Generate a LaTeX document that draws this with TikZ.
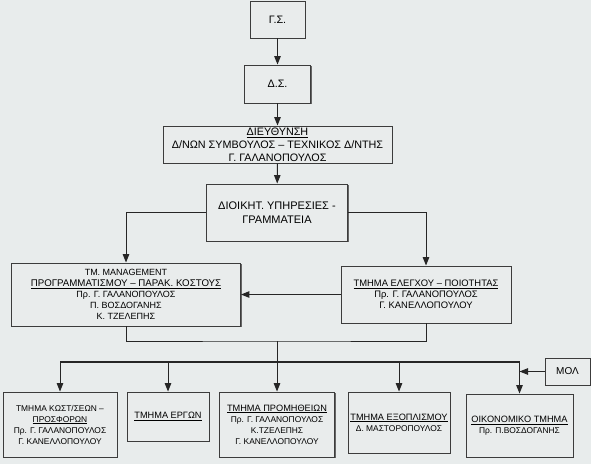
\documentclass[tikz,border=0pt]{standalone}
\usepackage{fontspec}
\setmainfont{Liberation Sans}
\usetikzlibrary{arrows.meta,shadows}
\definecolor{bg}{HTML}{E8ECEC}
\definecolor{boxfill}{HTML}{E9ECEC}
\definecolor{edge}{HTML}{3C3C3C}
\definecolor{linec}{HTML}{262626}
\newcommand\hd[1]{{\fontsize{9.2}{11}\selectfont\underline{#1}}}
\begin{document}
\begin{tikzpicture}[x=1pt,y=-1pt,
  box/.style={draw=edge, line width=0.9pt, fill=boxfill, align=center, inner sep=0pt,
    drop shadow={shadow xshift=1pt, shadow yshift=-1pt, fill=black!60, opacity=1}},
  big/.style={font=\fontsize{10.8}{13}\selectfont},
  mid/.style={font=\fontsize{9}{11}\selectfont},
  small/.style={font=\fontsize{8.4}{11}\selectfont},
  conn/.style={draw=linec, line width=1pt},
  arr/.style={conn, -{Triangle[length=8.5pt,width=6.5pt]}},
  ]
\useasboundingbox (0,0) rectangle (591,464);
\fill[bg] (0,0) rectangle (591,464);

\node[box, big, minimum width=55pt, minimum height=37pt] (gs) at (277.5,19.5) {Γ.Σ.};
\node[box, big, minimum width=66pt, minimum height=38pt] (ds) at (277.5,84) {Δ.Σ.};
\node[box, big, minimum width=229pt, minimum height=37pt] (dir) at (277.5,144.5)
  {\underline{ΔΙΕΥΘΥΝΣΗ}\\Δ/ΝΩΝ ΣΥΜΒΟΥΛΟΣ – ΤΕΧΝΙΚΟΣ Δ/ΝΤΗΣ\\Γ. ΓΑΛΑΝΟΠΟΥΛΟΣ};
\node[box, font=\fontsize{11}{13.5}\selectfont, minimum width=141pt, minimum height=57pt] (dioik) at (277,212.5)
  {ΔΙΟΙΚΗΤ. ΥΠΗΡΕΣΙΕΣ -\\ΓΡΑΜΜΑΤΕΙΑ};
\node[box, mid, minimum width=229pt, minimum height=63pt] (mgmt) at (126,294.5)
  {ΤΜ. MANAGEMENT\\{\fontsize{9.7}{11}\selectfont\underline{ΠΡΟΓΡΑΜΜΑΤΙΣΜΟΥ – ΠΑΡΑΚ. ΚΟΣΤΟΥΣ}}\\Πρ. Γ. ΓΑΛΑΝΟΠΟΥΛΟΣ\\Π. ΒΟΣΔΟΓΑΝΗΣ\\Κ. ΤΖΕΛΕΠΗΣ};
\node[box, font=\fontsize{9.4}{10.8}\selectfont, minimum width=170pt, minimum height=57pt] (qual) at (426,294.5)
  {\underline{ΤΜΗΜΑ ΕΛΕΓΧΟΥ – ΠΟΙΟΤΗΤΑΣ}\\Πρ. Γ. ΓΑΛΑΝΟΠΟΥΛΟΣ\\Γ. ΚΑΝΕΛΛΟΠΟΥΛΟΥ};

\node[box, small, minimum width=114pt, minimum height=65pt] (kost) at (60,424.5)
  {ΤΜΗΜΑ ΚΩΣΤ/ΣΕΩΝ –\\\underline{ΠΡΟΣΦΟΡΩΝ}\\Πρ. Γ. ΓΑΛΑΝΟΠΟΥΛΟΣ\\Γ. ΚΑΝΕΛΛΟΠΟΥΛΟΥ};
\node[box, small, minimum width=82pt, minimum height=49pt] (erg) at (168,416.5)
  {\hd{ΤΜΗΜΑ ΕΡΓΩΝ}};
\node[box, small, minimum width=115pt, minimum height=65pt] (prom) at (277,424.5)
  {\hd{ΤΜΗΜΑ ΠΡΟΜΗΘΕΙΩΝ}\\Πρ. Γ. ΓΑΛΑΝΟΠΟΥΛΟΣ\\Κ.ΤΖΕΛΕΠΗΣ\\Γ. ΚΑΝΕΛΛΟΠΟΥΛΟΥ};
\node[box, small, minimum width=102pt, minimum height=61pt] (exop) at (399,422.5)
  {\hd{ΤΜΗΜΑ ΕΞΟΠΛΙΣΜΟΥ}\\Δ. ΜΑΣΤΟΡΟΠΟΥΛΟΣ};
\node[box, small, minimum width=107pt, minimum height=63pt] (oik) at (519.5,425.5)
  {\hd{ΟΙΚΟΝΟΜΙΚΟ ΤΜΗΜΑ}\\Πρ. Π.ΒΟΣΔΟΓΑΝΗΣ};
\node[box, font=\fontsize{10}{11}\selectfont, minimum width=45pt, minimum height=27pt] (mol) at (567.5,371.5) {ΜΟΛ};

\coordinate (jn) at (277,341);
\coordinate (bus) at (277,362);

\draw[arr] (gs) -- (ds);
\draw[arr] (ds) -- (dir);
\draw[arr] (dir) -- (dioik);
\draw[arr] (dioik.west) -| (mgmt.north);
\draw[arr] (dioik.east) -| (qual.north);
\draw[arr] (qual.west) -- (mgmt.east);
\draw[conn] (mgmt.south) |- (jn) -| (qual.south);
\draw[arr] (jn) -- (prom.north);
\draw[conn, line width=1.3pt] (bus -| kost.north) -- (bus -| oik.north);
\draw[arr] (bus) -| (kost.north);
\draw[arr] (bus) -| (erg.north);
\draw[arr] (bus) -| (exop.north);
\draw[arr] (bus) -| (oik.north);
\draw[arr] (mol.west) -- (mol.west -| oik.north);
\end{tikzpicture}
\end{document}
